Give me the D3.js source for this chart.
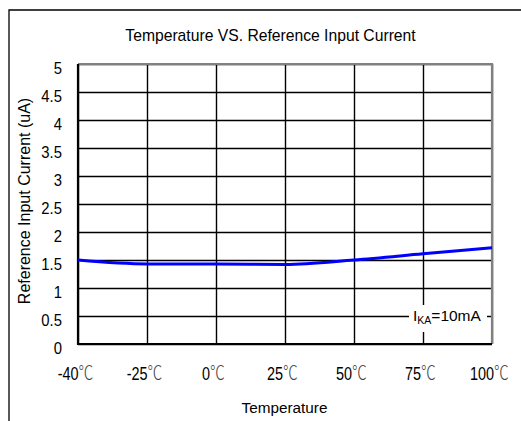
<!DOCTYPE html>
<html>
<head>
<meta charset="utf-8">
<script src="https://cdn.jsdelivr.net/npm/d3@7/dist/d3.min.js"></script>
<style>
  html, body { margin: 0; padding: 0; background: #fff; }
  svg { display: block; }
  text { font-family: "Liberation Sans", Arial, sans-serif; fill: #000; }
  .deg { font-family: "Noto Sans CJK SC", "Noto Sans", sans-serif; font-weight: 300; fill: #444; }
</style>
</head>
<body>
<svg id="chart" width="521" height="421"></svg>
<script>
// Temperature categories (°C) along the x axis
const temperatures = [-40, -25, 0, 25, 50, 75, 100];
// Reference input current (uA) at each temperature
const currentValues = [1.50, 1.43, 1.43, 1.42, 1.50, 1.61, 1.72];
// Y axis tick values
const yTicks = [0, 0.5, 1, 1.5, 2, 2.5, 3, 3.5, 4, 4.5, 5];

const chartTitle = "Temperature VS. Reference Input Current";
const xTitle = "Temperature";
const yTitle = "Reference Input Current (uA)";
const conditionLabel = { main: "I", sub: "KA", rest: "=10mA" };

const W = 521, H = 421;
const plot = { left: 78, top: 64, right: 492, bottom: 344 };

const svg = d3.select("#chart");

// outer frame (top and left edges)
svg.append("path")
  .attr("d", `M9,${H} V10 H${W}`)
  .attr("fill", "none")
  .attr("stroke", "#000")
  .attr("stroke-width", 1.3);

const x = d3.scalePoint()
  .domain(temperatures)
  .range([plot.left, plot.right]);

const y = d3.scaleLinear()
  .domain([0, 5])
  .range([plot.bottom, plot.top]);

// horizontal gridlines + y tick labels
const yAxis = svg.append("g")
  .attr("transform", `translate(${plot.left},0)`)
  .call(d3.axisLeft(y)
    .tickValues(yTicks)
    .tickSize(-(plot.right - plot.left))
    .tickFormat(d3.format("")));
yAxis.select(".domain").remove();
yAxis.selectAll(".tick line")
  .attr("stroke", "#000")
  .attr("stroke-width", 1.4);
const ySx = 0.9;
yAxis.selectAll(".tick text")
  .attr("font-size", 16.5)
  .attr("font-family", "Liberation Sans, Arial, sans-serif")
  .attr("text-anchor", "end")
  .attr("x", -16 / ySx)
  .attr("dy", null)
  .attr("y", 9)
  .attr("transform", `scale(${ySx},1)`);

// vertical gridlines + x tick labels
const xAxis = svg.append("g")
  .attr("transform", `translate(0,${plot.bottom})`)
  .call(d3.axisBottom(x)
    .tickSize(-(plot.bottom - plot.top))
    .tickFormat(d => d));
xAxis.select(".domain").remove();
xAxis.selectAll(".tick line")
  .attr("stroke", "#000")
  .attr("stroke-width", 1.4);
const xSx = 0.78;
xAxis.selectAll(".tick text")
  .attr("font-size", 18.5)
  .attr("font-family", "Liberation Sans, Arial, sans-serif")
  .attr("text-anchor", "middle")
  .attr("x", -3 / xSx)
  .attr("y", 36)
  .attr("dy", null)
  .attr("transform", `scale(${xSx},1)`)
  .text(null)
  .each(function(d) {
    const t = d3.select(this);
    t.append("tspan").text(d);
    t.append("tspan").attr("class", "deg").attr("font-size", 19).text("\u2103");
  });

// plot border: black left/bottom, grey top/right
svg.append("path")
  .attr("d", `M${plot.left},${plot.top} H${plot.right} V${plot.bottom}`)
  .attr("fill", "none")
  .attr("stroke", "#808080")
  .attr("stroke-width", 2.2);
svg.append("path")
  .attr("d", `M${plot.left},${plot.top} V${plot.bottom} H${plot.right}`)
  .attr("fill", "none")
  .attr("stroke", "#000")
  .attr("stroke-width", 2.2);

// condition label with a white backing box
const legend = svg.append("g");
legend.append("rect")
  .attr("x", 409).attr("y", 305)
  .attr("width", 78).attr("height", 27)
  .attr("fill", "#fff");
const lt = legend.append("text")
  .attr("x", 413)
  .attr("y", 321)
  .attr("font-size", 15.5);
lt.append("tspan").text(conditionLabel.main);
lt.append("tspan").attr("font-size", 10.5).attr("dy", 3).text(conditionLabel.sub);
lt.append("tspan").attr("dy", -3).text(conditionLabel.rest);

// current vs temperature curve
const line = d3.line()
  .x((d, i) => x(temperatures[i]))
  .y(d => y(d))
  .curve(d3.curveMonotoneX);

svg.append("path")
  .datum(currentValues)
  .attr("d", line)
  .attr("fill", "none")
  .attr("stroke", "#0000ff")
  .attr("stroke-width", 3);

// titles
svg.append("text")
  .attr("x", 270.5)
  .attr("y", 41)
  .attr("text-anchor", "middle")
  .attr("font-size", 15.7)
  .text(chartTitle);

svg.append("text")
  .attr("x", 284.5)
  .attr("y", 413)
  .attr("text-anchor", "middle")
  .attr("font-size", 15.3)
  .text(xTitle);

svg.append("text")
  .attr("transform", "translate(30,201) rotate(-90)")
  .attr("text-anchor", "middle")
  .attr("font-size", 16)
  .text(yTitle);
</script>
</body>
</html>
